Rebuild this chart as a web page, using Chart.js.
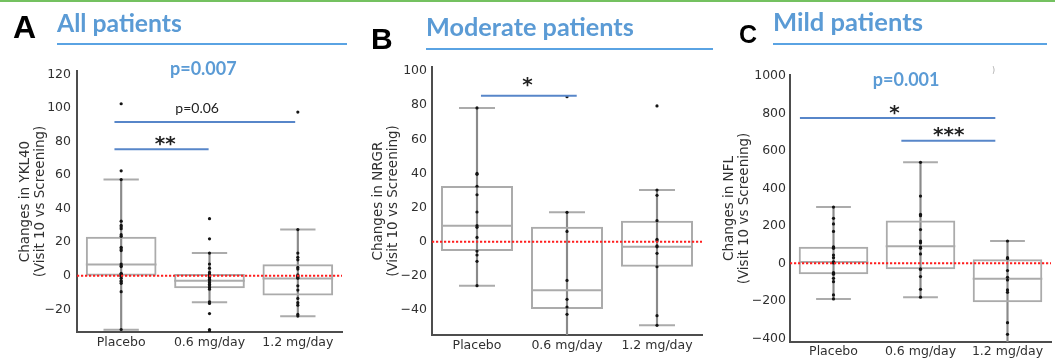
<!DOCTYPE html>
<html><head><meta charset="utf-8">
<script src="https://cdn.jsdelivr.net/npm/chart.js@4.4.1/dist/chart.umd.min.js"></script>
<style>
html,body{margin:0;padding:0;background:#fff;}
#stage{position:relative;width:1055px;height:358px;overflow:hidden;background:#fff;}
.pn{position:absolute;top:0;}
.letter{position:absolute;font-family:'Liberation Sans',Arial,sans-serif;font-weight:700;line-height:1;color:#000;white-space:nowrap;}
.head{position:absolute;font-family:Lato,'Open Sans',sans-serif;font-weight:700;line-height:1;color:#5B9BD5;white-space:nowrap;}
.rule{position:absolute;height:2px;background:#5AA3E3;}
#topline{position:absolute;left:0;top:0;width:1055px;height:2px;background:#74c160;}
</style></head>
<body><div id="stage">
<canvas id="cA" class="pn" width="360" height="358" style="left:0px"></canvas>
<canvas id="cB" class="pn" width="355" height="358" style="left:360px"></canvas>
<canvas id="cC" class="pn" width="340" height="358" style="left:715px"></canvas>
<div id="topline"></div>
<div class="letter" style="left:13px;top:10.8px;font-size:32px">A</div>
<div class="letter" style="left:371px;top:24px;font-size:30px">B</div>
<div class="letter" style="left:739px;top:21.7px;font-size:25px">C</div>
<div class="head" id="hA">All patients</div>
<div class="head" id="hB">Moderate patients</div>
<div class="head" id="hC">Mild patients</div>
<div class="rule" style="left:57px;top:43px;width:290px"></div>
<div class="rule" style="left:426px;top:48px;width:287px"></div>
<div class="rule" style="left:773px;top:43px;width:274px"></div>
</div>
<script>
// ---------- data ----------
const CATEGORIES = ['Placebo', '0.6 mg/day', '1.2 mg/day'];
const REF_VALUE = 0;

// Panel A: YKL40, all patients
const A_TITLE = ['Changes in YKL40', '(Visit 10 vs Screening)'];
const A_TICKS = [-20, 0, 20, 40, 60, 80, 100, 120];
const A_Q1 = [0, -7.5, -11.8];
const A_Q3 = [23.2, 1, 6.8];
const A_MEDIAN = [6.7, -2.9, -1.6];
const A_WHISKER_LO = [-32.2, -15.8, -24.1];
const A_WHISKER_HI = [57.3, 13.5, 27.5];
const A_PTS_PLACEBO = [102.5, 62.5, 57.3, 32.5, 30, 29, 28, 24.5, 23.5, 17, 16, 15, 7, 6, 5.5, 1.5, 1, 0.5, 0, -0.5, -1.5, -3, -3.5, -4.5, -9.5, -32];
const A_PTS_06 = [34, 22, 13.5, 7, 4.5, 2, 1, 0.5, 0, -0.5, -1, -2, -3, -4, -5, -6, -7, -8, -15.5, -16.5, -22.5, -32, -33];
const A_PTS_12 = [97.5, 27.5, 13.5, 11, 9.5, 5, 4, 0.5, 0, -0.5, -1, -1.5, -6, -8.5, -13.5, -16, -17.5, -23, -24];

// Panel B: NRGR, moderate patients
const B_TITLE = ['Changes in NRGR', '(Visit 10 vs Screening)'];
const B_TICKS = [-40, -20, 0, 20, 40, 60, 80, 100];
const B_Q1 = [-5.5, -39.5, -14.7];
const B_Q3 = [32.6, 8.8, 12.3];
const B_MEDIAN = [9.4, -28.5, -2.9];
const B_WHISKER_LO = [-25.8, -62, -49];
const B_WHISKER_HI = [78.4, 17.2, 30.3];
const B_PTS_PLACEBO = [78.4, 40, 39.5, 32.5, 27.5, 17.4, 9.4, 8.4, 2.5, -5.5, -7.8, -11.5, -25.8];
const B_PTS_06 = [85, 17.2, 6, -22.7, -33.8, -38.3, -42.6];
const B_PTS_12 = [79.6, 30.3, 27.2, 12.3, 1.4, 0.5, -2.5, -3, -6.8, -14.7, -43.4, -49];

// Panel C: NFL, mild patients
const C_TITLE = ['Changes in NFL', '(Visit 10 vs Screening)'];
const C_TICKS = [-400, -200, 0, 200, 400, 600, 800, 1000];
const C_Q1 = [-59, -32, -208];
const C_Q3 = [89, 228, 21];
const C_MEDIAN = [7, 91, -82];
const C_WHISKER_LO = [-190, -181, -460];
const C_WHISKER_HI = [300, 539, 119];
const C_PTS_PLACEBO = [300, 240, 210, 170, 88, 85, 80, 44, 30, 8, 5, 2, -50, -55, -58, -80, -98, -169, -190];
const C_PTS_06 = [539, 359, 261, 254, 180, 119, 110, 87, 80, 50, -30, -32, -71, -139, -181];
const C_PTS_12 = [119, 30, 25, -39, -75, -89, -142, -155, -317, -379];

// significance annotations (category-index / value coordinates)
const A_BRACKETS = [{from: -0.076, to: 1.97, y: 91.6}, {from: -0.076, to: 0.99, y: 75.4}];
const A_NOTES = [{text: 'p=0.007', x: 0.93, y: 122.9, kind: 'pval'}, {text: 'p=0.06', x: 0.86, y: 99.2, kind: 'note'}, {text: '**', x: 0.5, y: 80.2, kind: 'star'}];
const B_BRACKETS = [{from: 0.044, to: 1.108, y: 85.6}];
const B_NOTES = [{text: '*', x: 0.56, y: 93.6, kind: 'star'}];
const C_BRACKETS = [{from: -0.386, to: 1.86, y: 775}, {from: 0.78, to: 1.86, y: 654}];
const C_NOTES = [{text: 'p=0.001', x: 0.835, y: 975, kind: 'pval'}, {text: '*', x: 0.70, y: 818, kind: 'star'}, {text: '***', x: 1.325, y: 700, kind: 'star'}, {text: ')', x: 1.84, y: 1031, kind: 'speck'}];

// ---------- styles ----------
const AXIS_COLOR = '#4d4d4d';
const TEXT_COLOR = '#303030';
const BOX_COLOR = '#ababab';
const WHISKER_COLOR = '#8a8a8a';
const NOTE_STYLES = {
  pval: {font: '700 18px Lato, sans-serif', color: '#5B9BD5'},
  note: {font: '400 14px Lato, sans-serif', color: '#222'},
  star: {font: '700 20px "DejaVu Sans", sans-serif', color: '#222'},
  speck: {font: '400 8px "DejaVu Sans", sans-serif', color: '#aaa'}
};

const overlayPlugin = {
  id: 'overlay',
  afterDatasetsDraw(chart, args, opts) {
    const {ctx, chartArea, scales: {x, y}} = chart;
    ctx.save();
    // reference line
    const y0 = y.getPixelForValue(opts.ref);
    ctx.beginPath();
    ctx.strokeStyle = '#ff1e1e';
    ctx.lineWidth = 2;
    ctx.setLineDash([2.2, 1.8]);
    ctx.moveTo(chartArea.left, y0);
    ctx.lineTo(chartArea.right, y0);
    ctx.stroke();
    ctx.setLineDash([]);
    // brackets
    ctx.strokeStyle = '#5786c9';
    ctx.lineWidth = 2;
    for (const b of opts.brackets) {
      const py = y.getPixelForValue(b.y);
      ctx.beginPath();
      ctx.moveTo(x.getPixelForValue(b.from), py);
      ctx.lineTo(x.getPixelForValue(b.to), py);
      ctx.stroke();
    }
    // notes, ink box centred on anchor
    for (const n of opts.notes) {
      const st = NOTE_STYLES[n.kind];
      ctx.font = st.font;
      ctx.fillStyle = st.color;
      ctx.textAlign = 'center';
      ctx.textBaseline = 'alphabetic';
      const m = ctx.measureText(n.text);
      const px = x.getPixelForValue(n.x);
      const py = y.getPixelForValue(n.y);
      ctx.fillText(n.text, px, py + (m.actualBoundingBoxAscent - m.actualBoundingBoxDescent) / 2);
    }
    ctx.restore();
  }
};

function flatPoints(groups) {
  const out = [];
  groups.forEach((g, i) => g.forEach(v => out.push({x: CATEGORIES[i], y: v})));
  return out;
}
const fmtTick = v => (v < 0 ? '\u2212' + Math.abs(v) : String(v));
const catWidth = c => c.chart.scales.x.width / CATEGORIES.length;

function buildPanel(id, P) {
  const caps = [];
  P.lo.forEach((v, i) => { caps.push({x: CATEGORIES[i], y: v}); caps.push({x: CATEGORIES[i], y: P.hi[i]}); });
  return new Chart(document.getElementById(id), {
    type: 'bar',
    data: {
      labels: CATEGORIES,
      datasets: [
        {type: 'bar', data: P.lo.map((v, i) => [v, P.hi[i]]), backgroundColor: WHISKER_COLOR, barThickness: 1.5, grouped: false, order: 5, clip: 0},
        {type: 'bar', data: P.q1.map((v, i) => [v, P.q3[i]]), backgroundColor: 'rgba(255,255,255,0)', borderColor: BOX_COLOR, borderWidth: 2, borderSkipped: false, barPercentage: 0.8, categoryPercentage: 1, grouped: false, order: 4},
        {type: 'scatter', data: P.med.map((v, i) => ({x: CATEGORIES[i], y: v})), pointStyle: 'line', pointRadius: c => catWidth(c) * 0.4, pointBorderColor: BOX_COLOR, pointBackgroundColor: BOX_COLOR, pointBorderWidth: 2, order: 3},
        {type: 'scatter', data: caps, pointStyle: 'line', pointRadius: c => catWidth(c) * 0.2, pointBorderColor: BOX_COLOR, pointBackgroundColor: BOX_COLOR, pointBorderWidth: 2, order: 2, clip: 0},
        {type: 'scatter', data: flatPoints(P.pts), pointRadius: 1.6, pointBackgroundColor: '#141414', pointBorderWidth: 0, order: 1}
      ]
    },
    options: {
      responsive: false, animation: false, events: [],
      layout: {padding: {top: P.padTop, right: P.padRight, left: 0, bottom: 0}},
      plugins: {legend: {display: false}, tooltip: {enabled: false},
        overlay: {ref: REF_VALUE, brackets: P.brackets, notes: P.notes}},
      scales: {
        x: {type: 'category', offset: true,
          grid: {display: false, drawTicks: false},
          border: {display: true, color: AXIS_COLOR, width: 2},
          ticks: {color: TEXT_COLOR, font: {family: 'DejaVu Sans', size: 12.5}, padding: P.xPad, maxRotation: 0, autoSkip: false},
          afterFit: s => { s.height = P.xHeight; }},
        y: {type: 'linear', min: P.min, max: P.max,
          grid: {display: false, drawTicks: false},
          border: {display: true, color: AXIS_COLOR, width: 2},
          ticks: {color: TEXT_COLOR, font: {family: 'DejaVu Sans', size: 12.5}, padding: P.yPad, autoSkip: false, callback: fmtTick},
          afterBuildTicks: s => { s.ticks = P.ticks.map(v => ({value: v})); },
          afterFit: s => { s.width = P.yWidth; },
          title: {display: true, text: P.title, color: TEXT_COLOR, font: {family: 'DejaVu Sans', size: 13.5, lineHeight: 1.05}, padding: {top: P.titlePad, bottom: 0}}}
      }
    },
    plugins: [overlayPlugin]
  });
}

buildPanel('cA', {title: A_TITLE, ticks: A_TICKS, q1: A_Q1, q3: A_Q3, med: A_MEDIAN, lo: A_WHISKER_LO, hi: A_WHISKER_HI,
  pts: [A_PTS_PLACEBO, A_PTS_06, A_PTS_12], brackets: A_BRACKETS, notes: A_NOTES,
  min: -33.5, max: 122, padTop: 71, padRight: 18, yWidth: 77, xHeight: 26, xPad: 3, yPad: 6, titlePad: 18.9});
buildPanel('cB', {title: B_TITLE, ticks: B_TICKS, q1: B_Q1, q3: B_Q3, med: B_MEDIAN, lo: B_WHISKER_LO, hi: B_WHISKER_HI,
  pts: [B_PTS_PLACEBO, B_PTS_06, B_PTS_12], brackets: B_BRACKETS, notes: B_NOTES,
  min: -54.7, max: 102.4, padTop: 67, padRight: 13, yWidth: 72, xHeight: 23, xPad: 3, yPad: 5, titlePad: 11.9});
buildPanel('cC', {title: C_TITLE, ticks: C_TICKS, q1: C_Q1, q3: C_Q3, med: C_MEDIAN, lo: C_WHISKER_LO, hi: C_WHISKER_HI,
  pts: [C_PTS_PLACEBO, C_PTS_06, C_PTS_12], brackets: C_BRACKETS, notes: C_NOTES,
  min: -420, max: 1005, padTop: 75, padRight: 2, yWidth: 75, xHeight: 16, xPad: 2, yPad: 4, titlePad: 7.9});

// headings: fit to measured widths from the reference
(function () {
  const mc = document.createElement('canvas').getContext('2d');
  const specs = [['hA', 57, 125, 15], ['hB', 426, 208, 18.3], ['hC', 773, 150, 13.5]];
  for (const [id, left, w, capTop] of specs) {
    const el = document.getElementById(id);
    mc.font = '700 100px Lato';
    const w100 = mc.measureText(el.textContent).width;
    const fs = 100 * w / w100;
    el.style.fontSize = fs + 'px';
    el.style.left = left + 'px';
    el.style.top = (capTop - 0.17 * fs) + 'px';
  }
})();
</script>
</body></html>
